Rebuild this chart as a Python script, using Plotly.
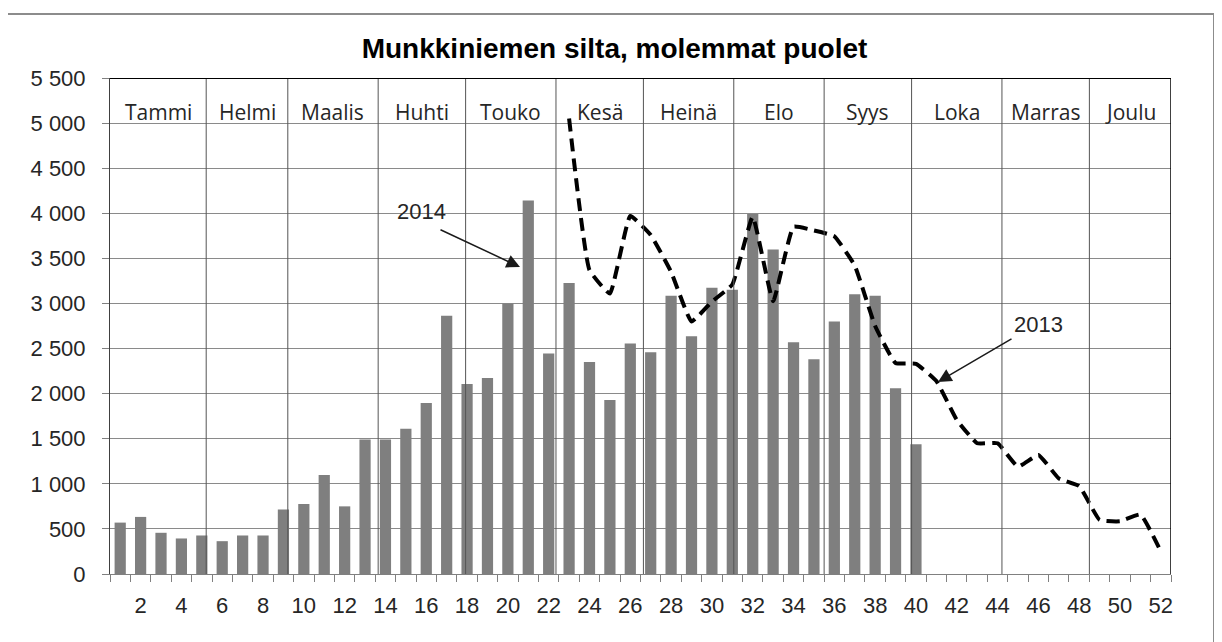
import datetime as dt
import plotly.graph_objects as go

# ---------------- data ----------------
weeks_2014 = list(range(1, 41))
bars_2014 = [570, 633, 457, 394, 427, 364, 427, 427, 716, 776,
             1098, 750, 1492, 1492, 1612, 1897, 2864, 2107, 2174, 3000,
             4142, 2444, 3227, 2350, 1930, 2556, 2459, 3085, 2635, 3175,
             3152, 3992, 3598, 2571, 2380, 2800, 3103, 3085, 2061, 1439]

weeks_2013 = list(range(23, 53))
line_2013 = [5050, 3370, 3110, 3970, 3760, 3350, 2800, 3020, 3210, 3960,
             3025, 3850, 3810, 3745, 3420, 2750, 2340, 2330, 2140, 1710,
             1450, 1450, 1190, 1320, 1060, 975, 600, 585, 660, 250]

months = ["Tammi", "Helmi", "Maalis", "Huhti", "Touko", "Kesä",
          "Heinä", "Elo", "Syys", "Loka", "Marras", "Joulu"]

y_tickvals = [0, 500, 1000, 1500, 2000, 2500, 3000, 3500, 4000, 4500, 5000, 5500]
y_ticktext = ["0", "500", "1 000", "1 500", "2 000", "2 500", "3 000",
              "3 500", "4 000", "4 500", "5 000", "5 500"]
x_tickvals = [2, 4, 6, 8, 10, 12, 14, 16, 18, 20, 22, 24, 26,
              28, 30, 32, 34, 36, 38, 40, 42, 44, 46, 48, 50, 52]
x_ticktext = [str(v) for v in x_tickvals]

title = "Munkkiniemen silta, molemmat puolet"

# ---------------- geometry helpers ----------------
# page is rendered with an 8px body margin, so figure coords = page coords - 8
OFF = 8
W, H = 1222 - OFF, 642 - OFF
L, R, T, B = 110 - OFF, 1171 - OFF, 78 - OFF, 574 - OFF
XMIN, XMAX, YMAX = 0.5, 52.5, 5500


def px_x(px):
    return XMIN + (px - OFF - L) / (R - L) * (XMAX - XMIN)


def px_y(py):
    return (B - (py - OFF)) / (B - T) * YMAX


# month boundaries in ISO-week axis units (week 1 of 2014 starts 30.12.2013)
week_start = dt.date(2013, 12, 30)
bounds = [XMIN]
for m in range(2, 13):
    bounds.append((dt.date(2014, m, 1) - week_start).days / 7 + 0.5)
bounds.append(XMAX)

fig = go.Figure()

fig.add_trace(go.Bar(
    x=weeks_2014, y=bars_2014, name="2014",
    marker=dict(color="#7f7f7f", line=dict(width=0)),
    width=0.55, showlegend=False,
))

fig.add_trace(go.Scatter(
    x=weeks_2013, y=line_2013, name="2013", mode="lines",
    line=dict(color="black", width=4, dash="13px,7px", shape="spline", smoothing=0.35),
    showlegend=False,
))

shapes = []
for b in bounds[1:-1]:
    shapes.append(dict(type="line", xref="x", yref="y", x0=b, x1=b, y0=0, y1=YMAX,
                       line=dict(color="#555555", width=1), layer="above"))
shapes.append(dict(type="line", xref="x", yref="y", x0=XMIN, x1=XMAX, y0=YMAX, y1=YMAX,
                   line=dict(color="black", width=2), layer="above"))
shapes.append(dict(type="line", xref="x", yref="y", x0=XMAX, x1=XMAX, y0=0, y1=YMAX,
                   line=dict(color="black", width=1.5), layer="above"))
# outer chart frame
shapes.append(dict(type="rect", xref="paper", yref="paper",
                   x0=(7 - OFF - L) / (R - L), x1=(1214 - OFF - L) / (R - L),
                   y0=(B - 700) / (B - T), y1=(B - (14 - OFF)) / (B - T),
                   line=dict(color="#8c8c8c", width=2), fillcolor="rgba(0,0,0,0)"))

annotations = []
for i, name in enumerate(months):
    annotations.append(dict(
        x=(bounds[i] + bounds[i + 1]) / 2, y=px_y(112), xref="x", yref="y",
        text=name, showarrow=False, xanchor="center", yanchor="middle",
        font=dict(family="Open Sans, Noto Sans, sans-serif", size=21, color="#262626"),
    ))

ann_font = dict(family="Liberation Sans, Arial, sans-serif", size=22, color="#262626")
annotations.append(dict(x=px_x(421.7), y=px_y(211.7), xref="x", yref="y", text="2014",
                        showarrow=False, font=ann_font))
annotations.append(dict(x=px_x(1038), y=px_y(324), xref="x", yref="y", text="2013",
                        showarrow=False, font=ann_font))
annotations.append(dict(x=px_x(520), y=px_y(267), xref="x", yref="y", text="",
                        showarrow=True, arrowhead=2, arrowsize=1.8, arrowwidth=1.5,
                        arrowcolor="#1a1a1a", ax=439 - 520, ay=229 - 267))
annotations.append(dict(x=px_x(938), y=px_y(382), xref="x", yref="y", text="",
                        showarrow=True, arrowhead=2, arrowsize=1.8, arrowwidth=1.5,
                        arrowcolor="#1a1a1a", ax=1013 - 938, ay=338 - 382))

tick_font = dict(family="Liberation Sans, Arial, sans-serif", size=22, color="#262626")

fig.update_layout(
    width=W, height=H,
    margin=dict(l=L, r=W - R, t=T, b=H - B),
    paper_bgcolor="white", plot_bgcolor="white",
    title=dict(text="<b>" + title + "</b>", x=(614.5 - OFF) / W, y=1 - (48 - OFF) / H,
               xanchor="center", yanchor="middle",
               font=dict(family="Liberation Sans, Arial, sans-serif", size=28, color="black")),
    shapes=shapes, annotations=annotations,
)

fig.update_xaxes(
    range=[XMIN, XMAX], tickmode="array", tickvals=x_tickvals, ticktext=x_ticktext,
    ticks="", showgrid=False, zeroline=False,
    showline=True, linecolor="#808080", linewidth=1,
    tickfont=tick_font, ticklabelstandoff=12,
    minor=dict(tickmode="array", tickvals=[k + 0.5 for k in range(53)],
               ticks="outside", ticklen=7, tickcolor="#808080", tickwidth=1, showgrid=False),
)

fig.update_yaxes(
    range=[0, YMAX], tickmode="array", tickvals=y_tickvals, ticktext=y_ticktext,
    ticks="outside", ticklen=7, tickcolor="#808080", tickwidth=1,
    showgrid=True, gridcolor="#8a8a8a", gridwidth=1, zeroline=False,
    showline=True, linecolor="#404040", linewidth=1,
    tickfont=tick_font, ticklabelstandoff=12,
)

fig.write_html("out.html")
